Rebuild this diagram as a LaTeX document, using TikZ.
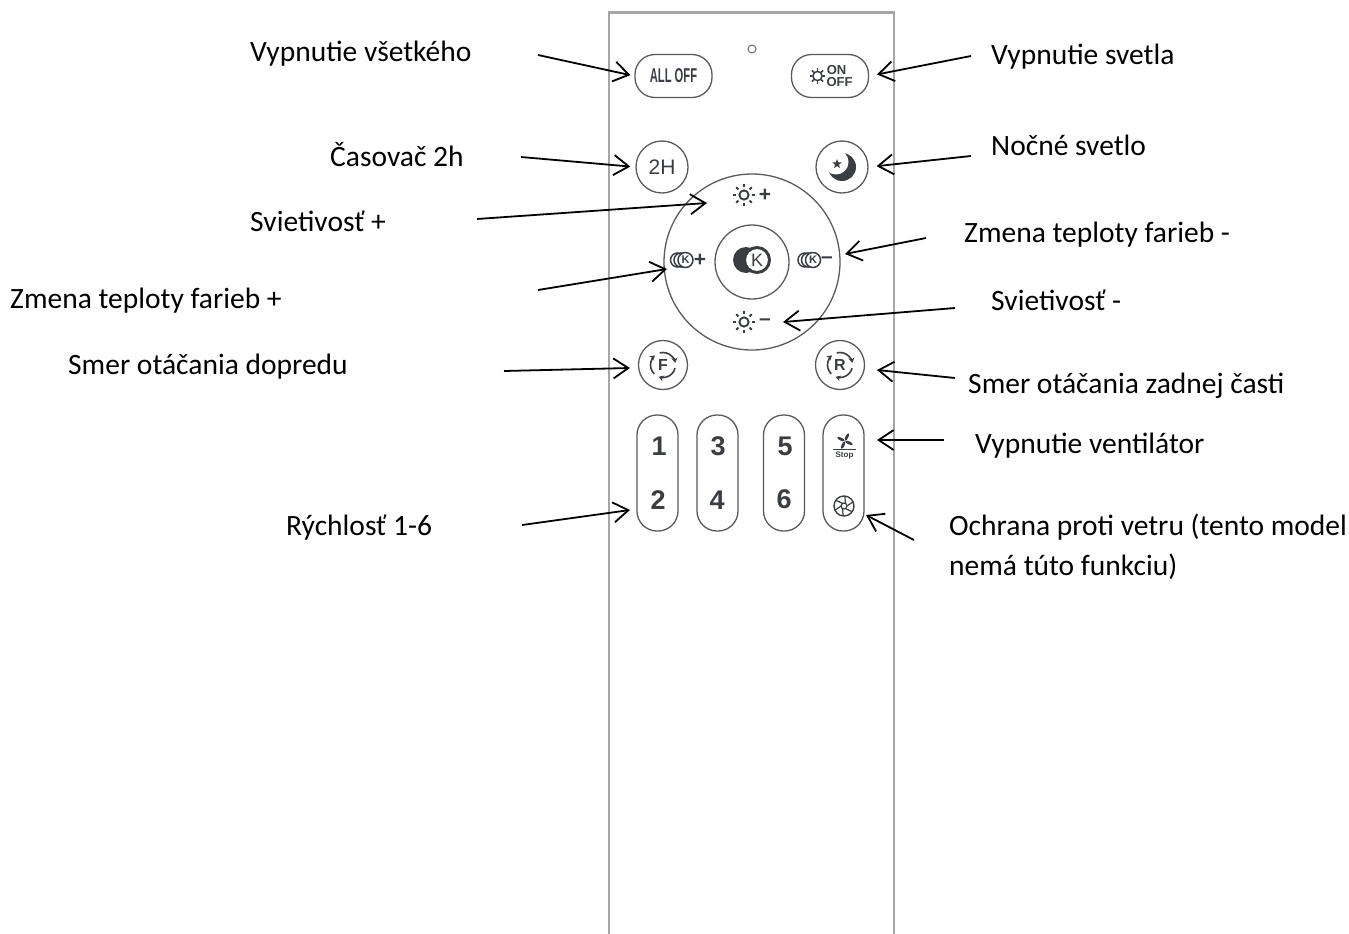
\documentclass[tikz,border=0pt]{standalone}
\usepackage{fontspec}
\setmainfont{Carlito}
\newfontfamily\keyfont{Liberation Sans}
\usetikzlibrary{arrows.meta,shapes.geometric}
\definecolor{keyink}{HTML}{3A3D42}
\definecolor{casing}{HTML}{A6A6A6}
\def\capsize{29.5}
\def\sunray{11}
\tikzset{
    caption/.style={anchor=base west,inner sep=0pt,align=left,font=\fontsize{\capsize}{40}\selectfont},
    callout/.style={line width=1.8pt,black,-{Straight Barb[length=15pt,width=20pt,line width=1.8pt]}},
    keyline/.style={draw=keyink!85,line width=1.3pt},
    roundkey/.style={keyline,circle,inner sep=0pt,text=keyink,font=\keyfont},
    pillkey/.style={keyline,rectangle,inner sep=0pt,rounded corners=20pt,text=keyink,font=\keyfont},
    digit/.style={inner sep=0pt,text=keyink,font=\keyfont\bfseries\fontsize{27}{27}\selectfont},
    glyph/.style={inner sep=0pt,text=keyink,font=\keyfont},
    ringK/.style={draw=keyink,line width=1.5pt,fill=white,circle,minimum size=15pt,inner sep=0pt,text=keyink,
        font=\keyfont\bfseries\fontsize{11}{11}\selectfont},
    sunicon/.pic={
        \draw[keyink,line width=1.9pt] (0,0) circle (4.6);
        \foreach \k in {0,45,...,315}
            \draw[keyink,line width=2pt] (\k:7.8) -- (\k:\sunray);
    },
    tinysun/.pic={
        \draw[keyink,line width=1.5pt] (0,0) circle (4.6);
        \foreach \k in {0,45,...,315}
            \draw[keyink,line width=1.5pt] (\k:5.2) -- (\k:7.8);
    },
    turnicon/.pic={
        \foreach \k in {105,225,345}
            \draw[keyink,line width=1.6pt,-{Stealth[length=5pt,width=6pt]}] (\k:12.5) arc (\k:\k-95:12.5);
    },
}
\begin{document}
\begin{tikzpicture}[x=1pt,y=1pt]
    \useasboundingbox (0,0) rectangle (1349,-934);
    \draw[casing,line width=2.4pt] (609,-934) -- (609,-12.5) -- (894,-12.5) -- (894,-934);
    \node[draw=keyink!75,line width=1pt,circle,minimum size=8pt,inner sep=0pt] (led) at (752,-49) {};

    \node[pillkey,minimum width=77pt,minimum height=43pt] (allOff) at (673.5,-76)
        {\bfseries\fontsize{20}{20}\selectfont\scalebox{0.56}[1]{ALL OFF}};
    \node[pillkey,minimum width=77pt,minimum height=43pt] (lightKey) at (830,-76) {};
    \node[glyph,font=\keyfont\bfseries\fontsize{13}{13}\selectfont] (onText) at (836.5,-70.5) {ON};
    \node[glyph,font=\keyfont\bfseries\fontsize{13}{13}\selectfont] (offText) at (839.5,-82) {OFF};
    \pic at (817.5,-76) {tinysun};

    \node[roundkey,minimum size=52pt,font=\keyfont\fontsize{21}{21}\selectfont] (timer) at (662,-167) {2H};
    \node[roundkey,minimum size=52pt] (nightKey) at (842,-167) {};
    \fill[keyink] (842,-167) circle (14);
    \fill[white] (836,-162) circle (12.5);
    \node[star,star points=5,star point ratio=2.4,fill=keyink,inner sep=0pt,minimum size=10pt] (nightStar) at (837,-164) {};

    \node[keyline,circle,minimum size=176pt,inner sep=0pt] (dial) at (752,-262) {};
    \node[keyline,circle,minimum size=74pt,inner sep=0pt] (dialCore) at (752,-262) {};

    \pic at (744,-195) {sunicon};
    \pic at (744,-322) {sunicon};
    \node[glyph,font=\keyfont\bfseries\fontsize{21}{21}\selectfont] (brightUp) at (765,-195) {+};
    \node[glyph,font=\keyfont\bfseries\fontsize{21}{21}\selectfont] (brightDown) at (765,-322) {\textendash};
    \coordinate (brightUpTip) at (707,-203);
    \coordinate (brightDownTip) at (783,-322);

    \fill[keyink] (746,-260) circle (13);
    \node[draw=keyink,line width=3pt,fill=white,circle,minimum size=25pt,inner sep=0pt,text=keyink,
        font=\keyfont\fontsize{18}{18}\selectfont] (coreK) at (757,-260) {K};

    \foreach \x in {677.5,681}
        \draw[keyink,line width=1.5pt] (\x,-260) circle (7);
    \node[ringK] (warmK) at (685.5,-260) {K};
    \node[glyph,font=\keyfont\bfseries\fontsize{21}{21}\selectfont] (warmPlus) at (700,-260) {+};
    \foreach \x in {805,808.5}
        \draw[keyink,line width=1.5pt] (\x,-260) circle (7);
    \node[ringK] (coolK) at (813,-260) {K};
    \node[glyph,font=\keyfont\bfseries\fontsize{21}{21}\selectfont] (coolMinus) at (827,-260) {\textendash};
    \coordinate (warmTip) at (667,-269);
    \coordinate (coolTip) at (845,-254);

    \node[roundkey,minimum size=49pt,font=\keyfont\bfseries\fontsize{16}{16}\selectfont] (forward) at (663,-365) {F};
    \node[roundkey,minimum size=49pt,font=\keyfont\bfseries\fontsize{16}{16}\selectfont] (reverse) at (840,-365) {R};
    \pic at (663,-365) {turnicon};
    \pic at (840,-365) {turnicon};

    \foreach \nm/\px in {speedA/657.5,speedB/717.5,speedC/784,fanKey/843.5}
        \node[pillkey,minimum width=41pt,minimum height=116pt] (\nm) at (\px,-473) {};
    \foreach \nm/\px/\py/\txt in {oneD/659/-446/1,twoD/658/-500/2,threeD/718/-446/3,fourD/717/-500/4,fiveD/785/-446/5,sixD/784/-499/6}
        \node[digit] (\nm) at (\px,\py) {\txt};

    \foreach \k in {65,155,245,335}
        \fill[keyink,rotate around={\k:(845,-441)}] (849.5,-441) ellipse (4 and 1.5);
    \draw[keyink,line width=1.3pt] (833,-449.5) -- (856,-449.5);
    \node[glyph,font=\keyfont\bfseries\fontsize{8}{8}\selectfont] (stopText) at (844.5,-455.5) {Stop};
    \node[draw=keyink,line width=1.4pt,circle,minimum size=20pt,inner sep=0pt] (guard) at (844,-506) {};
    \draw[keyink,line width=1.2pt] (844,-506) circle (3);
    \foreach \k in {0,60,...,300}
        \draw[keyink,line width=1.2pt] (\k:3) ++(844,-506) -- ++(\k+35:7.5);

    \foreach \nm/\px/\py/\txt in {
        capAllOff/250/-61.5/{Vypnutie všetkého},
        capLight/991/-64.5/{Vypnutie svetla},
        capTimer/330/-166.5/{Časovač 2h},
        capNight/991/-155.5/{Nočné svetlo},
        capBrightUp/250/-231.5/{Svietivosť +},
        capCool/964/-242.5/{Zmena teploty farieb -},
        capWarm/10/-308.5/{Zmena teploty farieb +},
        capBrightDown/991/-310.5/{Svietivosť -},
        capForward/68/-374.5/{Smer otáčania dopredu},
        capReverse/968/-393.5/{Smer otáčania zadnej časti},
        capFanOff/975/-453.5/{Vypnutie ventilátor},
        capSpeed/286/-535.5/{Rýchlosť 1-6},
        capGuard/949/-575.5/{Ochrana proti vetru (tento model\\nemá túto funkciu)}}
        \node[caption] (\nm) at (\px,\py) {\txt};

    \foreach \nm/\px/\py in {
        tailAllOff/538/-55,tailLight/971/-56,tailTimer/521/-157,tailNight/971/-156,
        tailBrightUp/477/-219,tailCool/926/-238,tailWarm/538/-290,tailBrightDown/955/-308,
        tailForward/504/-371,tailReverse/955/-378,tailFanOff/944/-440,tailSpeed/522/-525,tailGuard/914/-540}
        \coordinate (\nm) at (\px,\py);
    \coordinate (fanOffTip) at (877,-440);
    \coordinate (guardTip) at (866,-515);
    \coordinate (speedTip) at (630,-510);
    \coordinate (forwardTip) at (630,-368);
    \coordinate (reverseTip) at (877,-370);

    \foreach \a/\b/\s in {
        tailAllOff/allOff.west/4,tailLight/lightKey.east/8,tailTimer/timer.west/5,tailNight/nightKey.east/8,
        tailBrightUp/brightUpTip/0,tailCool/coolTip/0,tailWarm/warmTip/0,tailBrightDown/brightDownTip/0,
        tailForward/forwardTip/0,tailReverse/reverseTip/0,tailFanOff/fanOffTip/0,tailSpeed/speedTip/0,tailGuard/guardTip/0}
        \draw[callout,shorten >=\s pt] (\a) -- (\b);
\end{tikzpicture}
\end{document}
